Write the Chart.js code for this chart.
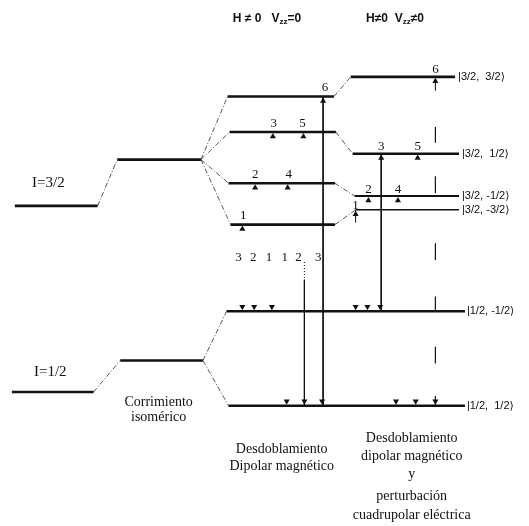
<!DOCTYPE html>
<html>
<head>
<meta charset="utf-8">
<script src="https://cdn.jsdelivr.net/npm/chart.js@4/dist/chart.umd.min.js"></script>
<style>
  html, body { margin: 0; padding: 0; background: #fff; }
  #c { display: block; }
</style>
</head>
<body>
<canvas id="c" width="529" height="526"></canvas>
<script>
// Energy levels of a 3/2 -> 1/2 nuclear transition (vertical position, downward axis)
const excitedBare = 205;            // I=3/2, unperturbed
const excitedShifted = 158;         // I=3/2 after isomer shift
const groundBare = 394;             // I=1/2, unperturbed
const groundShifted = 362;          // I=1/2 after isomer shift
const excitedMagnetic = [94, 130, 182, 224];   // m = +3/2, +1/2, -1/2, -3/2
const excitedQuadrupole = [74, 152, 195, 209]; // same sublevels with quadrupole shift
const groundMagnetic = [312, 408];             // m = -1/2, +1/2
const stateKets = ['|3/2,  3/2⟩', '|3/2,  1/2⟩', '|3/2, -1/2⟩', '|3/2, -3/2⟩', '|1/2, -1/2⟩', '|1/2,  1/2⟩'];
const lineNumbers = [['6'], ['3', '5'], ['2', '4'], ['1']];  // lines starting on each excited sublevel
const groundLineNumbers = ['3', '2', '1', '1', '2', '3'];
// pieces of the sixth line's guide drawn broken across the scheme
const guideDashes = [[125, 141], [175, 192], [243, 260], [297, 312], [348, 365], [398, 408]];

// Horizontal layout of the diagram columns
const X = {
  bareE: [11, 95], shiftE: [115, 200], bareG: [8, 91], shiftG: [118, 202],
  mag: [[227, 335], [229, 337], [228, 336], [230, 336]],
  quad: [[352, 458], [354, 462], [356, 462], [357, 462]],
  ground: [[226, 468], [228, 468]],
  upMag: [[324], [273, 304], [255, 288], [242]],
  upQuad: [[438], [383, 420], [370, 400], [357]],
  downMag: [[242, 254, 272], [287, 305, 323]],
  downQuad: [[357, 369, 382], [398, 418, 438]],
  numMag: [[326], [274, 303], [255, 289], [243]],
  numQuad: [[438], [383, 420], [370, 400], [357]],
  groundNums: [238, 253, 269, 285, 299, 319]
};

const INK = '#111';
const datasets = [];
function seg(x0, y0, x1, y1, opt) {
  datasets.push(Object.assign({
    data: [{x: x0, y: y0}, {x: x1, y: y1}],
    showLine: true, borderColor: INK, borderWidth: 1, pointRadius: 0, fill: false
  }, opt || {}));
}
const LEVEL = {borderWidth: 2.6};
const DASH = {borderWidth: 1, borderColor: '#555', borderDash: [5, 2, 1, 2]};

// unperturbed and shifted levels
seg(X.bareE[0], excitedBare, X.bareE[1], excitedBare, LEVEL);
seg(X.shiftE[0], excitedShifted, X.shiftE[1], excitedShifted, LEVEL);
seg(X.bareG[0], groundBare, X.bareG[1], groundBare, LEVEL);
seg(X.shiftG[0], groundShifted, X.shiftG[1], groundShifted, LEVEL);
seg(X.bareE[1], excitedBare, X.shiftE[0], excitedShifted, DASH);
seg(X.bareG[1], groundBare, X.shiftG[0], groundShifted, DASH);

// magnetic splitting of the excited state
excitedMagnetic.forEach((y, i) => {
  seg(X.mag[i][0], y, X.mag[i][1], y, LEVEL);
  seg(X.shiftE[1], excitedShifted, X.mag[i][0], y, DASH);
});
// magnetic + quadrupole
excitedQuadrupole.forEach((y, i) => {
  seg(X.quad[i][0], y, X.quad[i][1], y, {borderWidth: i === 3 ? 1.6 : (i === 2 ? 2 : 2.6)});
  seg(X.mag[i][1], excitedMagnetic[i], X.quad[i][0], y, DASH);
});
// ground sublevels (unaffected by the quadrupole term)
groundMagnetic.forEach((y, i) => {
  seg(X.ground[i][0], y, X.ground[i][1], y, LEVEL);
  seg(X.shiftG[1], groundShifted, X.ground[i][0], y, DASH);
});

// transitions drawn as vertical lines
seg(324, excitedMagnetic[0], 324, groundMagnetic[1]);
seg(305, 280, 305, groundMagnetic[1]);
seg(305, 262, 305, 280, {borderDash: [1, 2]});
seg(383, excitedQuadrupole[1], 383, groundMagnetic[0]);
seg(357, excitedQuadrupole[3] + 13, 357, excitedQuadrupole[3]);
seg(438, excitedQuadrupole[0] + 14, 438, excitedQuadrupole[0] + 2);
const guide = [];
guideDashes.forEach(d => { guide.push({x: 438, y: d[0]}, {x: 438, y: d[1]}, {x: 438, y: null}); });
datasets.push({data: guide, showLine: true, spanGaps: false, borderColor: INK, borderWidth: 1.2, pointRadius: 0});

// arrowheads
const R = 3.5;
const up = [], down = [];
excitedMagnetic.forEach((y, i) => X.upMag[i].forEach(x => up.push({x, y: y + R + 1})));
excitedQuadrupole.forEach((y, i) => X.upQuad[i].forEach(x => up.push({x, y: y + R + 1})));
groundMagnetic.forEach((y, i) => {
  X.downMag[i].forEach(x => down.push({x, y: y - R - 1}));
  X.downQuad[i].forEach(x => down.push({x, y: y - R - 1}));
});
datasets.push({data: up, showLine: false, pointStyle: 'triangle', pointRadius: R,
  backgroundColor: INK, borderColor: INK, borderWidth: 0});
datasets.push({data: down, showLine: false, pointStyle: 'triangle', pointRadius: R, rotation: 180,
  backgroundColor: INK, borderColor: INK, borderWidth: 0});

// text annotations
const SERIF = '"Liberation Serif", "DejaVu Serif", serif';
const SANS = '"Liberation Sans", "DejaVu Sans", sans-serif';
const texts = [];
function txt(t, x, y, font, align) { texts.push({t, x, y, font, align: align || 'center'}); }
lineNumbers.forEach((nums, i) => nums.forEach((n, k) => {
  txt(n, X.numMag[i][k], excitedMagnetic[i] - 9, '13px ' + SERIF);
  txt(n, X.numQuad[i][k], excitedQuadrupole[i] - (i === 3 ? 4 : 7), '13px ' + SERIF);
}));
groundLineNumbers.forEach((n, i) => txt(n, X.groundNums[i], 258, '13px ' + SERIF));
stateKets.forEach((k, i) => {
  const y = i < 4 ? excitedQuadrupole[i] : groundMagnetic[i - 4];
  const x = i < 4 ? X.quad[i][1] + 3 : X.ground[i - 4][1] + 2;
  txt(k, x, y, '11px ' + SANS, 'left');
});
txt('I=3/2', 45, 182, '15px ' + SERIF);
txt('I=1/2', 47, 374, '15px ' + SERIF);
txt('Corrimiento', 157, 404, '14px ' + SERIF);
txt('isomérico', 157, 420, '14px ' + SERIF);
txt('Desdoblamiento', 282, 452, '14px ' + SERIF);
txt('Dipolar magnético', 282, 469, '14px ' + SERIF);
txt('Desdoblamiento', 414, 441, '14px ' + SERIF);
txt('dipolar magnético', 414, 459, '14px ' + SERIF);
txt('y', 414, 478, '14px ' + SERIF);
txt('perturbación', 414, 500, '14px ' + SERIF);
txt('cuadrupolar eléctrica', 414, 519, '14px ' + SERIF);
const headers = [
  {x: 267, parts: ['H ≠ 0   V', 'zz', '=0']},
  {x: 397, parts: ['H≠0  V', 'zz', '≠0']}
];

const annotate = {
  id: 'annotate',
  afterDatasetsDraw(chart) {
    const ctx = chart.ctx, sx = chart.scales.x, sy = chart.scales.y;
    ctx.save();
    ctx.fillStyle = INK;
    ctx.textBaseline = 'middle';
    texts.forEach(o => {
      ctx.font = o.font;
      ctx.textAlign = o.align;
      ctx.fillText(o.t, sx.getPixelForValue(o.x), sy.getPixelForValue(o.y));
    });
    // headers with subscript
    headers.forEach(h => {
      const fMain = 'bold 12px ' + SANS, fSub = 'bold 8px ' + SANS;
      ctx.font = fMain; const w0 = ctx.measureText(h.parts[0]).width, w2 = ctx.measureText(h.parts[2]).width;
      ctx.font = fSub; const w1 = ctx.measureText(h.parts[1]).width;
      let x = sx.getPixelForValue(h.x) - (w0 + w1 + w2) / 2;
      const y = sy.getPixelForValue(15);
      ctx.textAlign = 'left';
      ctx.font = fMain; ctx.fillText(h.parts[0], x, y); x += w0;
      ctx.font = fSub; ctx.fillText(h.parts[1], x, y + 3); x += w1;
      ctx.font = fMain; ctx.fillText(h.parts[2], x, y);
    });
    ctx.restore();
  }
};

new Chart(document.getElementById('c'), {
  type: 'scatter',
  data: {datasets},
  options: {
    responsive: false,
    animation: false,
    layout: {padding: 0},
    plugins: {legend: {display: false}, tooltip: {enabled: false}},
    elements: {line: {tension: 0}},
    scales: {
      x: {type: 'linear', min: 0, max: 529, display: false},
      y: {type: 'linear', min: 0, max: 526, reverse: true, display: false}
    }
  },
  plugins: [annotate]
});
</script>
</body>
</html>
